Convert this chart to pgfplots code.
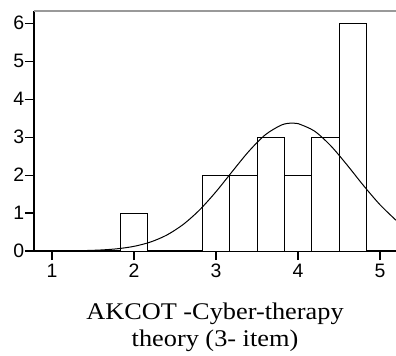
\documentclass[border=0pt]{standalone}
\usepackage{fontspec}
\setmainfont{Liberation Serif}
\newfontfamily\sansf{Liberation Sans}
\newfontfamily\labf[FakeStretch=1.1]{Liberation Serif}
\usepackage{pgfplots}
\pgfplotsset{compat=1.18}
\begin{document}
\begin{tikzpicture}
\begin{axis}[
  scale only axis, width=362bp, height=240bp,
  xmin=0.78, xmax=5.195, ymin=0, ymax=6.32,
  axis x line*=bottom, axis y line*=left,
  axis line style={line width=1.1bp, black, -},
  xtick={1,2,3,4,5}, ytick={0,1,2,3,4,5,6},
  tick style={black, line width=1.1bp},
  xtick align=outside, ytick align=outside,
  major tick length=9bp,
  /pgf/number format/assume math mode=true,
  tick label style={font=\sansf\fontsize{19.5}{19.5}\selectfont, inner sep=0.5bp},
  xticklabel style={yshift=-3bp},
  xlabel={AKCOT -Cyber-therapy\\theory (3- item)},
  xlabel style={at={(axis description cs:0.5,0)}, anchor=north, yshift=-52bp, inner sep=0pt,
    align=center, font=\labf\fontsize{24}{27}\selectfont},
  clip=false,
]
\addplot[ybar, bar width=0.3333, draw=black, fill=white, line width=1bp] coordinates {
(2,1) (3,2) (3.3333,2) (3.6667,3) (4,2) (4.3333,3) (4.6667,6)
};
\addplot[smooth, black, line width=1bp] coordinates {
(1.0,0.0016) (1.2,0.0045) (1.4,0.0114) (1.6,0.027) (1.8,0.0598) (2.0,0.1229)
(2.2,0.2357) (2.4,0.4206) (2.6,0.6996) (2.8,1.083) (3.0,1.562) (3.2,2.099)
(3.4,2.625) (3.6,3.059) (3.8,3.320) (3.93,3.37) (4.0,3.355) (4.2,3.159)
(4.4,2.769) (4.6,2.261) (4.8,1.720) (5.0,1.218) (5.195,0.81)
};
\draw[gray!80, line width=2bp] (rel axis cs:0,1) -- (rel axis cs:1,1);
\end{axis}
\pgfresetboundingbox
\path[use as bounding box] ([xshift=-34bp,yshift=-105bp]current axis.south west) rectangle ([yshift=11bp]current axis.north east);
\end{tikzpicture}
\end{document}
